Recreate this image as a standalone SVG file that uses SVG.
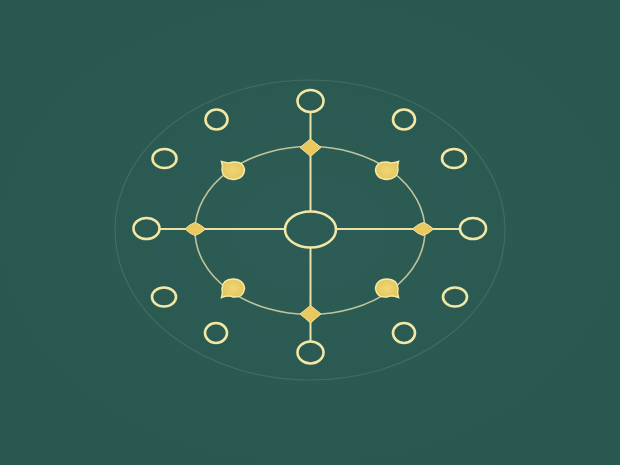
<svg xmlns="http://www.w3.org/2000/svg" width="620" height="465" viewBox="0 0 620 465">
<defs>
<style>
.ring{fill:none;stroke:#f2e7a4;stroke-width:2.6}
.line{fill:none;stroke:#e9e1a6;stroke-width:2}
.orbit{fill:none;stroke:#d9d7a8;stroke-width:1.6;opacity:0.85}
.faint{fill:none;stroke:#c9cfa6;stroke-width:1.2;opacity:0.16}
.dia{fill:#e9c95e;stroke:#f4e29a;stroke-width:1}
.blob{fill:url(#bf);stroke:#f6e7a2;stroke-width:1.5}
</style>
<radialGradient id="bg" cx="50%" cy="50%" r="60%">
<stop offset="0" stop-color="#2c5c55"/>
<stop offset="1" stop-color="#295850"/>
</radialGradient>
<radialGradient id="bf" cx="50%" cy="50%" r="55%">
<stop offset="0" stop-color="#efd67a"/>
<stop offset="1" stop-color="#e3c55a"/>
</radialGradient>
</defs>
<rect width="620" height="465" fill="url(#bg)"/>
<ellipse class="faint" cx="310" cy="230" rx="195" ry="150"/>
<g id="connectors">
<ellipse class="orbit" cx="310" cy="230.5" rx="115" ry="84"/>
<line class="line" x1="310.5" y1="112" x2="310.5" y2="211"/>
<line class="line" x1="310.5" y1="248" x2="310.5" y2="341"/>
<line class="line" x1="159" y1="229" x2="284" y2="229"/>
<line class="line" x1="337" y1="229" x2="461" y2="229"/>
</g>
<g id="center"><ellipse class="ring" cx="310.5" cy="229.5" rx="25.5" ry="18"/></g>
<g id="d-top"><path class="dia" d="M300 147.5 Q305.5 143 310.5 139 Q315.5 143 321 147.5 Q315.5 152 310.5 156.5 Q305.5 152 300 147.5Z"/></g>
<g id="d-bottom"><path class="dia" d="M300 314 Q305.5 309.5 310.5 305.5 Q315.5 309.5 321 314 Q315.5 318.5 310.5 323 Q305.5 318.5 300 314Z"/></g>
<g id="d-left"><path class="dia" d="M185 229 Q190 224 195 222.5 Q200 224 205.5 229 Q200 234 195 235.5 Q190 234 185 229Z"/></g>
<g id="d-right"><path class="dia" d="M412.5 229 Q418 224 423 222.5 Q428 224 433.5 229 Q428 234 423 235.5 Q418 234 412.5 229Z"/></g>
<g id="b-tl"><path class="blob" d="M221.5 161.5 Q229 164 233 162 Q243 161 244.5 169.5 Q244 179 233 179.5 Q222.5 179 222 170 Q223 166 221.5 161.5Z"/></g>
<g id="b-tr"><path class="blob" d="M398.5 161.5 Q391 164 387 162 Q377 161 375.5 169.5 Q376 179 387 179.5 Q397.5 179 398 170 Q397 166 398.5 161.5Z"/></g>
<g id="b-bl"><path class="blob" d="M221.5 297.5 Q229 295 233 297 Q243 298 244.5 289 Q244 279.5 233 279 Q222.5 279.5 222 288.5 Q223 292.5 221.5 297.5Z"/></g>
<g id="b-br"><path class="blob" d="M398.5 297.5 Q391 295 387 297 Q377 298 375.5 289 Q376 279.5 387 279 Q397.5 279.5 398 288.5 Q397 292.5 398.5 297.5Z"/></g>
<g id="o-top"><ellipse class="ring" cx="310.5" cy="101" rx="13" ry="11"/></g>
<g id="o-bottom"><ellipse class="ring" cx="310.5" cy="352.5" rx="13" ry="11"/></g>
<g id="o-left"><ellipse class="ring" cx="146.5" cy="228.5" rx="13" ry="10.5"/></g>
<g id="o-right"><ellipse class="ring" cx="473" cy="228.5" rx="13" ry="10.5"/></g>
<g id="o-tl1"><ellipse class="ring" cx="216.5" cy="119.5" rx="11" ry="10"/></g>
<g id="o-tr1"><ellipse class="ring" cx="404" cy="119.5" rx="11" ry="10"/></g>
<g id="o-tl2"><ellipse class="ring" cx="164.5" cy="158.5" rx="12" ry="9.5"/></g>
<g id="o-tr2"><ellipse class="ring" cx="454" cy="158.5" rx="12" ry="9.5"/></g>
<g id="o-bl2"><ellipse class="ring" cx="164" cy="297" rx="12" ry="9.5"/></g>
<g id="o-br2"><ellipse class="ring" cx="455" cy="297" rx="12" ry="9.5"/></g>
<g id="o-bl1"><ellipse class="ring" cx="216" cy="333" rx="11" ry="10"/></g>
<g id="o-br1"><ellipse class="ring" cx="404" cy="333" rx="11" ry="10"/></g>
</svg>
